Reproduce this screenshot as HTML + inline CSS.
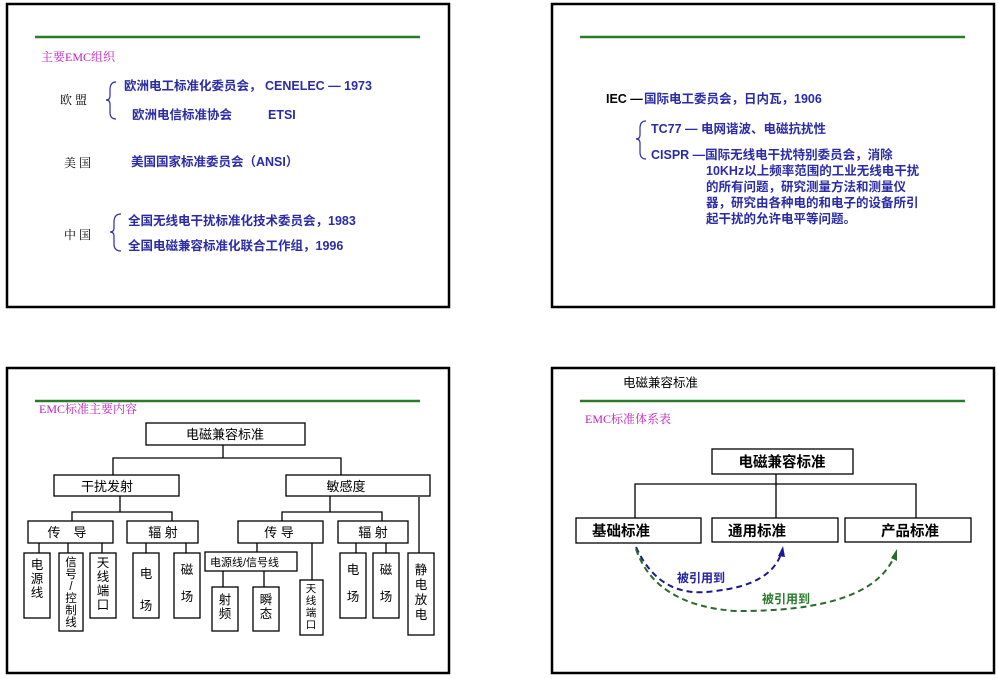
<!DOCTYPE html>
<html><head><meta charset="utf-8"><style>
html,body{margin:0;padding:0;background:#fff;}
svg{display:block;}
text{font-family:"Liberation Sans","Noto Sans CJK SC",sans-serif;}
.b{fill:#2b2ba8;font-weight:bold;font-size:12.5px;}
.m{fill:#c020c0;font-family:"Liberation Serif","Noto Serif CJK SC",serif;font-size:12px;}
.k{fill:#000;font-family:"Liberation Serif","Noto Serif CJK SC",serif;font-size:12px;}
.bx{fill:#fff;stroke:#000;stroke-width:1.3;}
.ln{stroke:#000;stroke-width:1.3;fill:none;}
.t{font-size:13px;fill:#000;text-anchor:middle;}
.tv{font-size:12.5px;fill:#000;text-anchor:middle;}
.br{stroke:#2b2ba8;stroke-width:1.2;fill:none;}
</style></head><body>
<svg width="998" height="679" viewBox="0 0 998 679" xmlns="http://www.w3.org/2000/svg">
<rect x="7" y="4" width="442" height="303" fill="none" stroke="#000" stroke-width="2.5"/>
<rect x="552" y="4" width="442" height="303" fill="none" stroke="#000" stroke-width="2.5"/>
<rect x="7" y="368" width="442" height="305" fill="none" stroke="#000" stroke-width="2.5"/>
<rect x="552" y="368" width="442" height="305" fill="none" stroke="#000" stroke-width="2.5"/>
<line x1="35" y1="37" x2="420" y2="37" stroke="#2a7a2a" stroke-width="2.5"/>
<line x1="580" y1="37" x2="965" y2="37" stroke="#2a7a2a" stroke-width="2.5"/>
<line x1="35" y1="401" x2="420" y2="401" stroke="#2a7a2a" stroke-width="2.5"/>
<line x1="580" y1="401" x2="965" y2="401" stroke="#2a7a2a" stroke-width="2.5"/>

<!-- Panel 1 -->
<text class="m" x="41" y="61" font-size="11">主要EMC组织</text>
<text class="k" x="60" y="104">欧 盟</text>
<path class="br" d="M116,82 Q110,82 110,90 L110,96 Q110,100 106,100 Q110,100 110,104 L110,112 Q110,119 116,119"/>
<text class="b" x="124" y="90">欧洲电工标准化委员会， CENELEC — 1973</text>
<text class="b" x="132" y="119">欧洲电信标准协会</text>
<text class="b" x="268" y="119">ETSI</text>
<text class="k" x="64" y="167">美 国</text>
<text class="b" x="131" y="166">美国国家标准委员会（ANSI）</text>
<text class="k" x="64" y="239">中 国</text>
<path class="br" d="M121,214 Q114,214 114,222 L114,228 Q114,232 110,232 Q114,232 114,236 L114,244 Q114,251 121,251"/>
<text class="b" x="128" y="225">全国无线电干扰标准化技术委员会，1983</text>
<text class="b" x="128" y="250">全国电磁兼容标准化联合工作组，1996</text>

<!-- Panel 2 -->
<text x="606" y="103" font-size="12.5" font-weight="bold" fill="#000">IEC —</text>
<text class="b" x="644" y="103">国际电工委员会，日内瓦，1906</text>
<path class="br" d="M646,121 Q640,121 640,128 L640,135 Q640,139 636,139 Q640,139 640,143 L640,152 Q640,159 646,159"/>
<text class="b" x="651" y="133">TC77 — 电网谐波、电磁抗扰性</text>
<text class="b" x="651" y="159">CISPR —国际无线电干扰特别委员会，消除</text>
<text class="b" x="706" y="175">10KHz以上频率范围的工业无线电干扰</text>
<text class="b" x="706" y="191">的所有问题，研究测量方法和测量仪</text>
<text class="b" x="706" y="207">器，研究由各种电的和电子的设备所引</text>
<text class="b" x="706" y="223">起干扰的允许电平等问题。</text>

<!-- Panel 3 -->
<text class="m" x="39" y="413" font-size="12.5">EMC标准主要内容</text>
<rect class="bx" x="146" y="423" width="159" height="22"/>
<text class="t" x="225" y="439">电磁兼容标准</text>
<path class="ln" d="M223,445V458M113,475V458H341V475"/>
<rect class="bx" x="54" y="475" width="125" height="21"/>
<text class="t" x="107" y="491">干扰发射</text>
<rect class="bx" x="286" y="475" width="144" height="21"/>
<text class="t" x="346" y="491">敏感度</text>
<path class="ln" d="M120,496V512M72,521V512H172V521"/>
<rect class="bx" x="28" y="521" width="85" height="22"/>
<text class="t" x="67" y="537">传　导</text>
<rect class="bx" x="127" y="521" width="71" height="22"/>
<text class="t" x="163" y="537">辐 射</text>
<path class="ln" d="M39,543V553M68,543V553M102,543V553M146,543V553M186,543V553"/>
<rect class="bx" x="24" y="553" width="26" height="65"/>
<text class="tv" x="37" y="569">电</text><text class="tv" x="37" y="583">源</text><text class="tv" x="37" y="597">线</text>
<rect class="bx" x="59" y="553" width="24" height="78"/>
<text x="71" y="566" font-size="11.5" text-anchor="middle">信</text><text x="71" y="578" font-size="11.5" text-anchor="middle">号</text><text x="71" y="590" font-size="11.5" text-anchor="middle">/</text><text x="71" y="602" font-size="11.5" text-anchor="middle">控</text><text x="71" y="614" font-size="11.5" text-anchor="middle">制</text><text x="71" y="626" font-size="11.5" text-anchor="middle">线</text>
<rect class="bx" x="90" y="553" width="26" height="65"/>
<text class="tv" x="103" y="567">天</text><text class="tv" x="103" y="581">线</text><text class="tv" x="103" y="595">端</text><text class="tv" x="103" y="609">口</text>
<rect class="bx" x="133" y="553" width="26" height="65"/>
<text class="tv" x="146" y="578">电</text><text class="tv" x="146" y="610">场</text>
<rect class="bx" x="174" y="553" width="26" height="65"/>
<text class="tv" x="187" y="574">磁</text><text class="tv" x="187" y="601">场</text>
<path class="ln" d="M330,496V512M282,521V512H382V521M419,497V553"/>
<rect class="bx" x="238" y="521" width="85" height="22"/>
<text class="t" x="279" y="537">传 导</text>
<rect class="bx" x="338" y="521" width="70" height="22"/>
<text class="t" x="373" y="537">辐 射</text>
<path class="ln" d="M257,543V552M312,543V580M356,543V553M386,543V553M223,571V587M264,571V587"/>
<rect class="bx" x="205" y="552" width="92" height="19"/>
<text x="210" y="566" font-size="11" fill="#000">电源线/信号线</text>
<rect class="bx" x="212" y="587" width="26" height="44"/>
<text class="tv" x="225" y="604">射</text><text class="tv" x="225" y="618">频</text>
<rect class="bx" x="253" y="587" width="26" height="44"/>
<text class="tv" x="266" y="604">瞬</text><text class="tv" x="266" y="618">态</text>
<rect class="bx" x="300" y="580" width="23" height="55"/>
<text x="311" y="592" font-size="10.5" text-anchor="middle">天</text><text x="311" y="604" font-size="10.5" text-anchor="middle">线</text><text x="311" y="616" font-size="10.5" text-anchor="middle">端</text><text x="311" y="628" font-size="10.5" text-anchor="middle">口</text>
<rect class="bx" x="340" y="553" width="26" height="65"/>
<text class="tv" x="353" y="574">电</text><text class="tv" x="353" y="601">场</text>
<rect class="bx" x="373" y="553" width="26" height="65"/>
<text class="tv" x="386" y="574">磁</text><text class="tv" x="386" y="601">场</text>
<rect class="bx" x="408" y="553" width="26" height="82"/>
<text class="tv" x="421" y="574">静</text><text class="tv" x="421" y="589">电</text><text class="tv" x="421" y="604">放</text><text class="tv" x="421" y="619">电</text>

<!-- Panel 4 -->
<text x="623" y="387" font-size="12.5" fill="#000">电磁兼容标准</text>
<text class="m" x="585" y="423" font-size="12.5">EMC标准体系表</text>
<rect class="bx" x="712" y="449" width="141" height="25"/>
<text x="782" y="467" font-size="14.5" font-weight="bold" text-anchor="middle">电磁兼容标准</text>
<path class="ln" d="M776,474V518M635,518V484H916V518"/>
<rect class="bx" x="576" y="518" width="125" height="25"/>
<text x="592" y="536" font-size="14.5" font-weight="bold">基础标准</text>
<rect class="bx" x="712" y="518" width="126" height="24"/>
<text x="728" y="536" font-size="14.5" font-weight="bold">通用标准</text>
<rect class="bx" x="845" y="518" width="126" height="24"/>
<text x="881" y="536" font-size="14.5" font-weight="bold">产品标准</text>
<path d="M636,547 Q660,600 715,591 Q770,585 781,554" fill="none" stroke="#1a1a90" stroke-width="2" stroke-dasharray="6,4"/>
<path d="M778,556 L783,546 L785,557 Z" fill="#1a1a90"/>
<path d="M636,549 Q655,605 735,611 Q870,612 894,557" fill="none" stroke="#2a6a2a" stroke-width="2" stroke-dasharray="6,4"/>
<path d="M891,558 L897,549 L897,561 Z" fill="#2a6a2a"/>
<text x="677" y="582" font-size="12" font-weight="bold" fill="#2222a0">被引用到</text>
<text x="762" y="603" font-size="12" font-weight="bold" fill="#2a7a2a">被引用到</text>
</svg>
</body></html>
